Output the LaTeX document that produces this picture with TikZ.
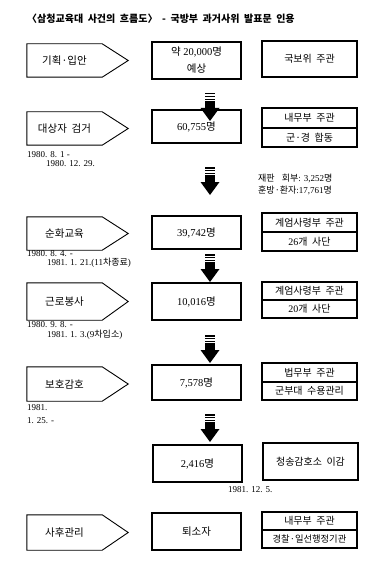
\documentclass[tikz,border=0pt]{standalone}
\usepackage{fontspec}
\setmainfont{Liberation Serif}
\newfontfamily\cjk[WordSpace=2]{Noto Sans CJK KR}
\newcommand\kr[1]{{\cjk #1}}
\usetikzlibrary{positioning}

\tikzset{
  stage/.style={minimum width=75pt, minimum height=33pt, inner sep=0pt, font=\fontsize{10.5}{12}\selectfont},
  penline/.style={line width=0.9pt, line join=miter},
  count/.style={draw, line width=1.1pt, minimum width=89pt, minimum height=33pt, inner sep=0pt, font=\fontsize{10.5}{12}\selectfont},
  org/.style={draw, line width=1.6pt, minimum width=95pt, minimum height=19pt, inner sep=0pt, outer sep=0pt, font=\fontsize{10}{12}\selectfont},
  note/.style={anchor=west, inner sep=0pt, font=\fontsize{9}{10}\selectfont},
  pics/downarr/.style={code={
    \foreach \s in {0,2.9,5.8} \fill (-4.8,\s) rectangle (4.8,\s+1.5);
    \fill (-5,8.2) rectangle (5,15.2);
    \fill (-9.5,15) -- (9.5,15) -- (0,28) -- cycle;
  }},
}

\begin{document}
\begin{tikzpicture}[x=1pt,y=-1pt]
\useasboundingbox (0,0) rectangle (380,580);

\node[anchor=west, inner sep=0pt, font=\cjk\bfseries\fontsize{10}{12}\selectfont] (title) at (27,19) {〈삼청교육대 사건의 흐름도〉 - 국방부 과거사위 발표문 인용};

\node[stage] (p1) at (64.5,60.5) {\kr{기획·입안}};
\node[stage] (p2) at (64.5,128.5) {\kr{대상자 검거}};
\node[stage] (p3) at (64.5,233.5) {\kr{순화교육}};
\node[stage, minimum height=37pt] (p4) at (64.5,301.5) {\kr{근로봉사}};
\node[stage, minimum height=34pt] (p5) at (64.5,384) {\kr{보호감호}};
\node[stage, minimum height=35pt] (p7) at (64.5,532.5) {\kr{사후관리}};
\foreach \i in {1,2,3,4,5,7}
  \draw[penline] (p\i.north west) -- (p\i.north east) -- ([xshift=26pt]p\i.east) -- (p\i.south east) -- (p\i.south west) -- cycle;

\node[count, minimum height=37pt, align=center, font=\fontsize{10.5}{17}\selectfont] (m1) at (196.5,60.5) {\kr{약} 20,000\kr{명}\\\kr{예상}};
\node[count] (m2) at (196.5,126.5) {60,755\kr{명}};
\node[count] (m3) at (196.5,232.5) {39,742\kr{명}};
\node[count, minimum height=37pt] (m4) at (196.5,301.5) {10,016\kr{명}};
\node[count, minimum height=35pt] (m5) at (196.5,382.5) {7,578\kr{명}};
\node[count, minimum height=37pt] (m6) at (197.5,463.5) {2,416\kr{명}};
\node[count, minimum height=37pt] (m7) at (196.5,531.5) {\kr{퇴소자}};

\node[org, minimum height=36pt] (r1) at (309.5,59) {\kr{국보위 주관}};
\node[org, minimum height=20pt] (r2a) at (309.5,118) {\kr{내무부 주관}};
\node[org, below=0pt of r2a] (r2b) {\kr{군·경 합동}};
\node[org] (r3a) at (309.5,222.5) {\kr{계엄사령부 주관}};
\node[org, below=0pt of r3a] (r3b) {26\kr{개 사단}};
\node[org, minimum height=18pt] (r4a) at (309.5,291) {\kr{계엄사령부 주관}};
\node[org, minimum height=18pt, below=0pt of r4a] (r4b) {20\kr{개 사단}};
\node[org] (r5a) at (309.5,372.5) {\kr{법무부 주관}};
\node[org, minimum height=18pt, below=0pt of r5a] (r5b) {\kr{군부대 수용관리}};
\node[org, minimum height=37pt] (r6) at (310.5,461.5) {\kr{청송감호소 이감}};
\node[org, minimum height=18pt] (r7a) at (309.5,521) {\kr{내무부 주관}};
\node[org, minimum height=18pt, below=0pt of r7a, font=\fontsize{9.3}{11}\selectfont] (r7b) {\kr{경찰·일선행정기관}};

\node[note] (d2a) at (27,154.5) {1980. 8. 1 -};
\node[note] (d2b) at (46,163.5) {1980. 12. 29.};
\node[note] (d3a) at (27,253.5) {1980. 8. 4. -};
\node[note] (d3b) at (47,262.5) {1981. 1. 21.(11\kr{차종료})};
\node[note] (d4a) at (27,324.5) {1980. 9. 8. -};
\node[note] (d4b) at (47,334.5) {1981. 1. 3.(9\kr{차입소})};
\node[note] (d5a) at (27,407.5) {1981.};
\node[note] (d5b) at (27,421) {1. 25. -};
\node[note] (d6) at (228,489.5) {1981. 12. 5.};
\node[note] (n1) at (258,178) {\kr{재판}\hspace{7pt}\kr{회부}: 3,252\kr{명}};
\node[note] (n2) at (258,190) {\kr{훈방·환자}:17,761\kr{명}};

\pic at (210,93) {downarr};
\pic at (210,167) {downarr};
\pic at (210,254) {downarr};
\pic at (210,335) {downarr};
\pic at (210,414) {downarr};
\end{tikzpicture}
\end{document}
